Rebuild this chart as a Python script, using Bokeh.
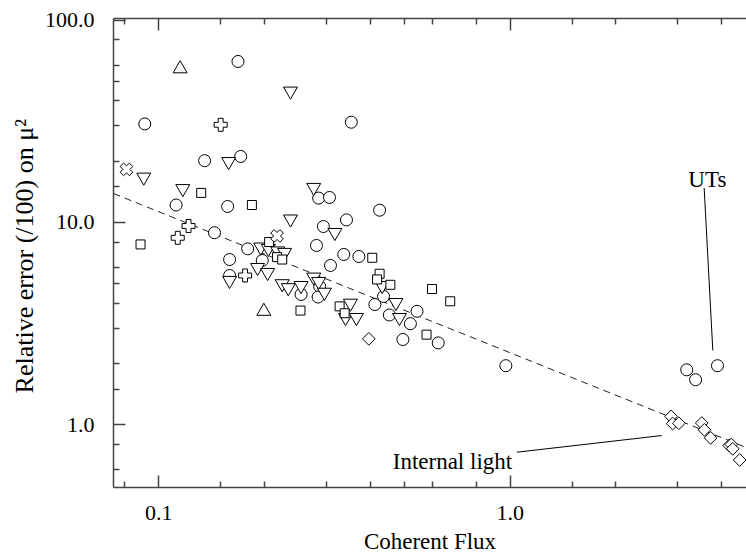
import math
from bokeh.plotting import figure
from bokeh.models import LogAxis, FixedTicker, Label, Range1d
from bokeh.embed import file_html
from bokeh.resources import INLINE

# ---- data ----
circle_x = [0.168, 0.0912, 0.353, 0.135, 0.171, 0.112, 0.157, 0.285, 0.306, 0.144,
            0.294, 0.342, 0.425, 0.179, 0.159, 0.197, 0.281, 0.336, 0.371, 0.308,
            0.159, 0.287, 0.254, 0.284, 0.436, 0.412, 0.453, 0.543, 0.520, 0.495,
            0.624, 0.972, 3.18, 3.37, 3.89]
circle_y = [62.5, 30.7, 31.3, 20.2, 21.2, 12.2, 12.0, 13.2, 13.3, 8.9,
            9.55, 10.3, 11.5, 7.41, 6.56, 6.49, 7.7, 6.95, 6.79, 6.13,
            5.47, 4.83, 4.41, 4.28, 4.31, 3.93, 3.49, 3.64, 3.16, 2.64,
            2.54, 1.96, 1.87, 1.67, 1.96]

itri_x = [0.237, 0.158, 0.0906, 0.117, 0.276, 0.237, 0.317, 0.195, 0.205, 0.218,
          0.228, 0.191, 0.204, 0.159, 0.2245, 0.2335, 0.254, 0.276, 0.285, 0.296,
          0.351, 0.340, 0.365, 0.432, 0.473, 0.484]
itri_y = [44.6, 20.0, 16.75, 14.7, 14.9, 10.4, 8.92, 7.56, 7.44, 7.23,
          7.11, 5.99, 5.66, 5.17, 4.98, 4.76, 4.88, 5.37, 5.11, 4.52,
          3.99, 3.39, 3.39, 4.88, 4.02, 3.39]

square_x = [0.132, 0.184, 0.0887, 0.217, 0.2245, 0.206, 0.253, 0.327, 0.338, 0.405,
            0.425, 0.418, 0.456, 0.599, 0.675, 0.578]
square_y = [14.0, 12.2, 7.79, 6.74, 6.56, 8.01, 3.67, 3.85, 3.56, 6.69,
            5.58, 5.23, 4.92, 4.69, 4.08, 2.79]

tri_x = [0.115, 0.199]
tri_y = [57.5, 3.64]

diamond_x = [0.396, 2.87, 2.90, 3.02, 3.51, 3.57, 3.72, 4.20, 4.26, 4.30, 4.50]
diamond_y = [2.66, 1.10, 1.015, 1.018, 1.021, 0.945, 0.862, 0.790, 0.799, 0.761, 0.670]

plus_x = [0.150, 0.1215, 0.1132, 0.176]
plus_y = [30.4, 9.61, 8.40, 5.47]

cross_x = [0.0809, 0.217]
cross_y = [18.3, 8.58]

fit_x = [0.0743, 4.70]
fit_y = [13.9, 0.772]

ut_line_x = [3.565, 3.773]
ut_line_y = [14.8, 2.33]
il_line_x = [1.044, 2.70]
il_line_y = [0.732, 0.885]

x_major = [0.1, 1.0]
x_minor = [0.08, 0.15, 0.2, 0.3, 0.4, 0.5, 0.6, 0.8, 1.5, 2, 3, 4]
y_major = [1.0, 10.0, 100.0]
y_minor = [0.6, 0.8, 1.5, 2, 3, 4, 5, 6, 8, 15, 20, 30, 40, 50, 60, 80]
x_labels = {0.1: "0.1", 1.0: "1.0"}
y_labels = {1.0: "1.0", 10.0: "10.0", 100.0: "100.0"}

FONT = "Liberation Serif"
FS = "22px"
FS2 = "23px"
FSY = "26px"
AX = "#444444"

p = figure(width=746, height=557, x_axis_type="log", y_axis_type="log",
           x_range=Range1d(0.0743, 4.705), y_range=Range1d(0.49, 101.9),
           output_backend="svg", toolbar_location=None,
           min_border_left=113, min_border_right=0, min_border_top=18, min_border_bottom=70)
p.grid.visible = False
p.outline_line_color = None
p.background_fill_color = "white"
p.border_fill_color = "white"

xt = FixedTicker(ticks=x_major, minor_ticks=x_minor)
yt = FixedTicker(ticks=y_major, minor_ticks=y_minor)

def style(ax, labels=None):
    ax.axis_line_color = AX
    ax.axis_line_width = 1.5
    ax.major_tick_in = 12
    ax.major_tick_out = 0
    ax.minor_tick_in = 6
    ax.minor_tick_out = 0
    ax.major_tick_line_color = AX
    ax.minor_tick_line_color = AX
    ax.major_tick_line_width = 1.5
    ax.minor_tick_line_width = 1.5
    ax.major_label_text_font = FONT
    ax.major_label_text_font_size = FS
    ax.major_label_text_color = "black"
    ax.axis_label_text_font = FONT
    ax.axis_label_text_font_size = FS
    ax.axis_label_text_font_style = "normal"
    ax.axis_label_text_color = "black"
    if labels is not None:
        ax.major_label_overrides = labels

xa = p.xaxis[0]
xa.ticker = xt
style(xa, x_labels)
xa.axis_label = "Coherent Flux"
xa.axis_label_text_font_size = FS2
xa.major_label_standoff = 18
xa.axis_label_standoff = 6

ya = p.yaxis[0]
ya.ticker = yt
style(ya, y_labels)
ya.axis_label = "Relative error (/100) on  μ²"
ya.axis_label_text_font_size = FSY
ya.major_label_standoff = 19
ya.axis_label_standoff = 3

top = LogAxis(ticker=xt)
style(top)
top.major_label_text_font_size = "1px"
top.major_label_text_alpha = 0
top.major_label_standoff = 0
p.add_layout(top, "above")

# fit line
p.line(fit_x, fit_y, line_color="#222222", line_width=1, line_dash="7 5")

# annotation pointers
p.line(ut_line_x, ut_line_y, line_color="black", line_width=1)
p.line(il_line_x, il_line_y, line_color="black", line_width=1)

kw = dict(fill_color="white", line_color="black", line_width=1)
p.scatter(circle_x, circle_y, marker="circle", size=12, **kw)
p.scatter(itri_x, itri_y, marker="inverted_triangle", size=14, **kw)
p.scatter(square_x, square_y, marker="square", size=9, **kw)
p.scatter(tri_x, tri_y, marker="triangle", size=14, **kw)
p.scatter(diamond_x, diamond_y, marker="square", size=9, angle=math.pi / 4, **kw)
p.scatter(plus_x, plus_y, marker="plus", size=13, **kw)
p.scatter(cross_x, cross_y, marker="plus", size=13, angle=math.pi / 4, **kw)

p.add_layout(Label(x=3.64, y=16.4, text="UTs", text_align="center", text_baseline="alphabetic",
                   text_font=FONT, text_font_size=FS2, text_color="black"))
p.add_layout(Label(x=1.013, y=0.659, text="Internal light", text_align="right", text_baseline="alphabetic",
                   text_font=FONT, text_font_size=FS2, text_color="black"))

open("out.html", "w").write(file_html(p, INLINE))
